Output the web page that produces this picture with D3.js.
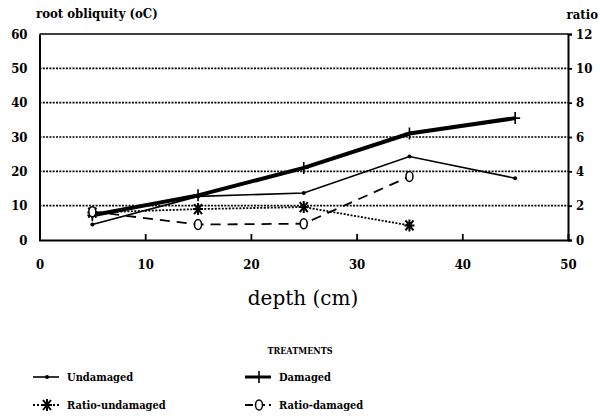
<!DOCTYPE html>
<html>
<head>
<meta charset="utf-8">
<script src="https://cdn.jsdelivr.net/npm/d3@7"></script>
<style>
body{margin:0;background:#fff;}
text{font-family:"DejaVu Serif",serif;fill:#000;}
</style>
</head>
<body>
<div id="chart"></div>
<script>
var depths = [5, 15, 25, 35, 45];
var undamaged = [4.5, 12.7, 13.7, 24.3, 18];
var damaged = [7.2, 13, 21, 31, 35.5];
var ratioDepths = [5, 15, 25, 35];
var ratioUndamaged = [1.6, 1.8, 1.92, 0.85];
var ratioDamaged = [1.65, 0.9, 0.95, 3.7];
var xTicks = [0, 10, 20, 30, 40, 50];
var yTicks = [0, 10, 20, 30, 40, 50, 60];
var yrTicks = [0, 2, 4, 6, 8, 10, 12];

var svg = d3.select("#chart").append("svg").attr("width", 600).attr("height", 418);

var x = d3.scaleLinear().domain([0, 50]).range([39.5, 568]);
var y = d3.scaleLinear().domain([0, 60]).range([240, 34]);
var yr = d3.scaleLinear().domain([0, 12]).range([240, 34]);

// grid
svg.append("g").selectAll("line").data(yTicks.filter(function(d){ return d > 0 && d < 60; }))
    .enter().append("line")
    .attr("x1", x(0)).attr("x2", x(50))
    .attr("y1", function(d){ return y(d); }).attr("y2", function(d){ return y(d); })
    .attr("stroke", "#000").attr("stroke-width", 1.6).attr("stroke-dasharray", "2,1.3");

// frame
svg.append("line").attr("x1", x(0)).attr("x2", x(50)).attr("y1", y(60)).attr("y2", y(60))
    .attr("stroke", "#000").attr("stroke-width", 1.6);

var xAxis = svg.append("g").attr("transform", "translate(0," + y(0) + ")")
    .call(d3.axisBottom(x).tickValues(xTicks).tickSize(-6).tickPadding(20).tickFormat(d3.format("d")));
var yAxis = svg.append("g").attr("transform", "translate(" + x(0) + ",0)")
    .call(d3.axisLeft(y).tickValues(yTicks).tickSize(0).tickPadding(12));
var yrAxis = svg.append("g").attr("transform", "translate(" + x(50) + ",0)")
    .call(d3.axisRight(yr).tickValues(yrTicks).tickSize(4).tickPadding(4));

[xAxis, yAxis, yrAxis].forEach(function(a){
    a.select(".domain").attr("stroke", "#000").attr("stroke-width", 2);
    a.selectAll(".tick line").attr("stroke", "#000").attr("stroke-width", 1.8);
    a.selectAll("text").style("font-family", "DejaVu Serif Condensed, DejaVu Serif")
        .style("font-weight", "bold").style("font-size", "13px");
});
xAxis.selectAll(".tick").filter(function(d){ return d === 0 || d === 50; }).select("line").remove();

svg.append("text").attr("x", 36).attr("y", 18).style("font-size", "13px").style("font-weight", "bold")
    .style("font-family", "DejaVu Serif Condensed, DejaVu Serif").text("root obliquity (oC)");
svg.append("text").attr("x", 598).attr("y", 19).attr("text-anchor", "end").style("font-size", "13px").style("font-weight", "bold")
    .style("font-family", "DejaVu Serif Condensed, DejaVu Serif").text("ratio");
svg.append("text").attr("x", 303).attr("y", 305).attr("text-anchor", "middle").style("font-size", "20px")
    .text("depth (cm)");
svg.append("text").attr("x", 300).attr("y", 354).attr("text-anchor", "middle").style("font-size", "9px").style("font-weight", "bold")
    .style("font-family", "DejaVu Serif Condensed, DejaVu Serif").text("TREATMENTS");

var line = d3.line();

function drawSeries(xs, vals, scale, opts){
    var pts = xs.map(function(d, i){ return [x(d), scale(vals[i])]; });
    svg.append("path").attr("d", line(pts)).attr("fill", "none").attr("stroke", "#000")
        .attr("stroke-width", opts.w).attr("stroke-dasharray", opts.dash || null);
    pts.forEach(function(p){ drawMarker(p[0], p[1], opts.marker); });
}

function drawMarker(cx, cy, m){
    var g = svg.append("g").attr("transform", "translate(" + cx + "," + cy + ")");
    if (m === "dot") {
        g.append("circle").attr("r", 2).attr("fill", "#000");
    } else if (m === "plus") {
        g.append("path").attr("d", "M-5,0H5M0,-6V6").attr("stroke", "#000").attr("stroke-width", 1.6);
    } else if (m === "star") {
        g.append("path").attr("d", "M-5,0H5M-4,-5L4,5M4,-5L-4,5M0,-6V6").attr("stroke", "#000").attr("stroke-width", 2);
    } else if (m === "circle") {
        g.append("ellipse").attr("rx", 3.5).attr("ry", 5).attr("fill", "#fff").attr("stroke", "#000").attr("stroke-width", 1.5);
    }
}

drawSeries(depths, undamaged, y, {w: 1.6, marker: "dot"});
drawSeries(depths, damaged, y, {w: 4, marker: "plus"});
drawSeries(ratioDepths, ratioUndamaged, yr, {w: 1.8, dash: "2,1.5", marker: "star"});
drawSeries(ratioDepths, ratioDamaged, yr, {w: 1.8, dash: "10,7", marker: "circle"});

// legend
var legend = [
    {name: "Undamaged", col: 0, row: 0, w: 1.6, dash: null, marker: "dot"},
    {name: "Damaged", col: 1, row: 0, w: 3, dash: null, marker: "plus"},
    {name: "Ratio-undamaged", col: 0, row: 1, w: 1.8, dash: "2,2", marker: "star"},
    {name: "Ratio-damaged", col: 1, row: 1, w: 1.8, dash: "8,4", marker: "circle"}
];
legend.forEach(function(d){
    var lx = d.col === 0 ? 33 : 245;
    var ly = d.row === 0 ? 377 : 405;
    svg.append("line").attr("x1", lx).attr("x2", lx + 26).attr("y1", ly).attr("y2", ly)
        .attr("stroke", "#000").attr("stroke-width", d.w).attr("stroke-dasharray", d.dash);
    drawMarker(lx + 14, ly, d.marker);
    svg.append("text").attr("x", lx + 34).attr("y", ly + 4).style("font-size", "11px").style("font-weight", "bold")
        .style("font-family", "DejaVu Serif Condensed, DejaVu Serif").text(d.name);
});
</script>
</body>
</html>
